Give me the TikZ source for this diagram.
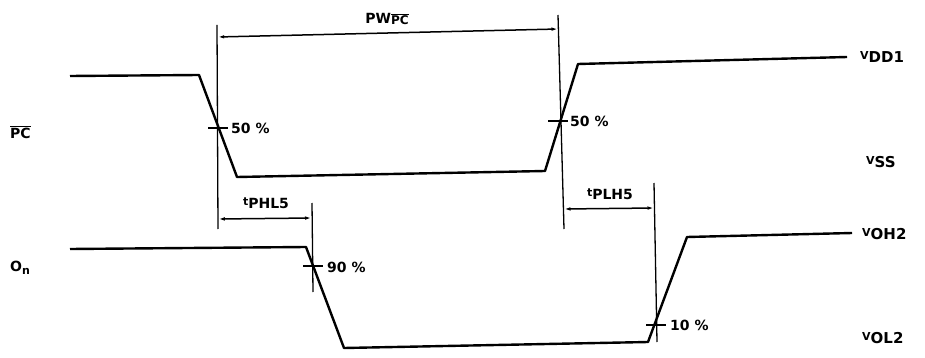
\documentclass[tikz,border=0pt]{standalone}
\usepackage{fontspec}
\setmainfont{DejaVu Sans}
\usetikzlibrary{arrows.meta}
\newcommand{\sigl}[2]{{\fontsize{11}{11}\selectfont #1}\raisebox{-3pt}{#2}}
\begin{document}
\begin{tikzpicture}[x=1pt,y=-1pt,
  wave/.style={line width=2.4pt, line join=round},
  guide/.style={line width=1.3pt},
  dim/.style={line width=1.5pt, {Latex[length=7pt,width=3.5pt]}-{Latex[length=7pt,width=3.5pt]}},
  lbl/.style={font=\fontsize{14}{15}\selectfont\bfseries, inner sep=0pt},
  vlbl/.style={font=\fontsize{15}{16}\selectfont\bfseries, inner sep=0pt},
  tick/.style={line width=1.5pt}]
\useasboundingbox (0,0) rectangle (925,358);
% PC waveform
\coordinate (p0) at (70,76);
\coordinate (p1) at (199,75);
\coordinate (p2) at (237,177);
\coordinate (p3) at (545,171);
\coordinate (p4) at (578,64);
\coordinate (p5) at (847,57);
\draw[wave] (p0) -- (p1) -- (p2) -- (p3) -- (p4) -- (p5);
% On waveform
\coordinate (o0) at (70,249);
\coordinate (o1) at (306,247);
\coordinate (o2) at (344,348);
\coordinate (o3) at (648,342);
\coordinate (o4) at (687,237);
\coordinate (o5) at (852,233);
\draw[wave] (o0) -- (o1) -- (o2) -- (o3) -- (o4) -- (o5);
% guide lines
\coordinate (g1t) at (217,25);
\coordinate (g1b) at (218,229);
\coordinate (g2t) at (558,15);
\coordinate (g2b) at (564,229);
\coordinate (g3t) at (312,203);
\coordinate (g3b) at (313,292);
\coordinate (g4t) at (654,183);
\coordinate (g4b) at (657,342);
\draw[guide] (g1t) -- (g1b);
\draw[guide] (g2t) -- (g2b);
\draw[guide] (g3t) -- (g3b);
\draw[guide] (g4t) -- (g4b);
% dimension arrows
\coordinate (a1l) at (217.2,37);
\coordinate (a1r) at (558.5,29);
\draw[dim] (a1l) -- (a1r);
\coordinate (a2l) at (217.8,219);
\coordinate (a2r) at (312,218);
\draw[dim] (a2l) -- (a2r);
\coordinate (a3l) at (563.5,209);
\coordinate (a3r) at (654.5,208);
\draw[dim] (a3l) -- (a3r);
% ticks
\coordinate (m1) at (218,128);
\coordinate (m2) at (558,121);
\coordinate (m3) at (313,266);
\coordinate (m4) at (656,325);
\draw[tick] ([xshift=-10pt]m1) -- ([xshift=10pt]m1);
\draw[tick] ([xshift=-10pt]m2) -- ([xshift=10pt]m2);
\draw[tick] ([xshift=-10pt]m3) -- ([xshift=10pt]m3);
\draw[tick] ([xshift=-10pt]m4) -- ([xshift=10pt]m4);
% labels
\node[lbl, anchor=west] (l50a) at (231,128) {50 \%};
\node[lbl, anchor=west] (l50b) at (570,121) {50 \%};
\node[lbl, anchor=west] (l90) at (327,267) {90 \%};
\node[lbl, anchor=west] (l10) at (670,325) {10 \%};
\node[lbl, anchor=west] (pc) at (10,132) {$\overline{\mbox{PC}}$};
\node[lbl, anchor=west] (on) at (10,268) {O\raisebox{-3pt}{\fontsize{11}{11}\selectfont n}};
\node[lbl] (pw) at (387,19) {PW\raisebox{-1pt}{\fontsize{12}{12}\selectfont$\overline{\mbox{PC}}$}};
\node[lbl] (tphl) at (266,203) {\sigl{t}{PHL5}};
\node[lbl] (tplh) at (610,194) {\sigl{t}{PLH5}};
\node[vlbl, anchor=west] (vdd) at (860,57) {\sigl{V}{DD1}};
\node[vlbl, anchor=west] (vss) at (866,162) {\sigl{V}{SS}};
\node[vlbl, anchor=west] (voh) at (862,234) {\sigl{V}{OH2}};
\node[vlbl, anchor=west] (vol) at (862,338) {\sigl{V}{OL2}};
\end{tikzpicture}
\end{document}
